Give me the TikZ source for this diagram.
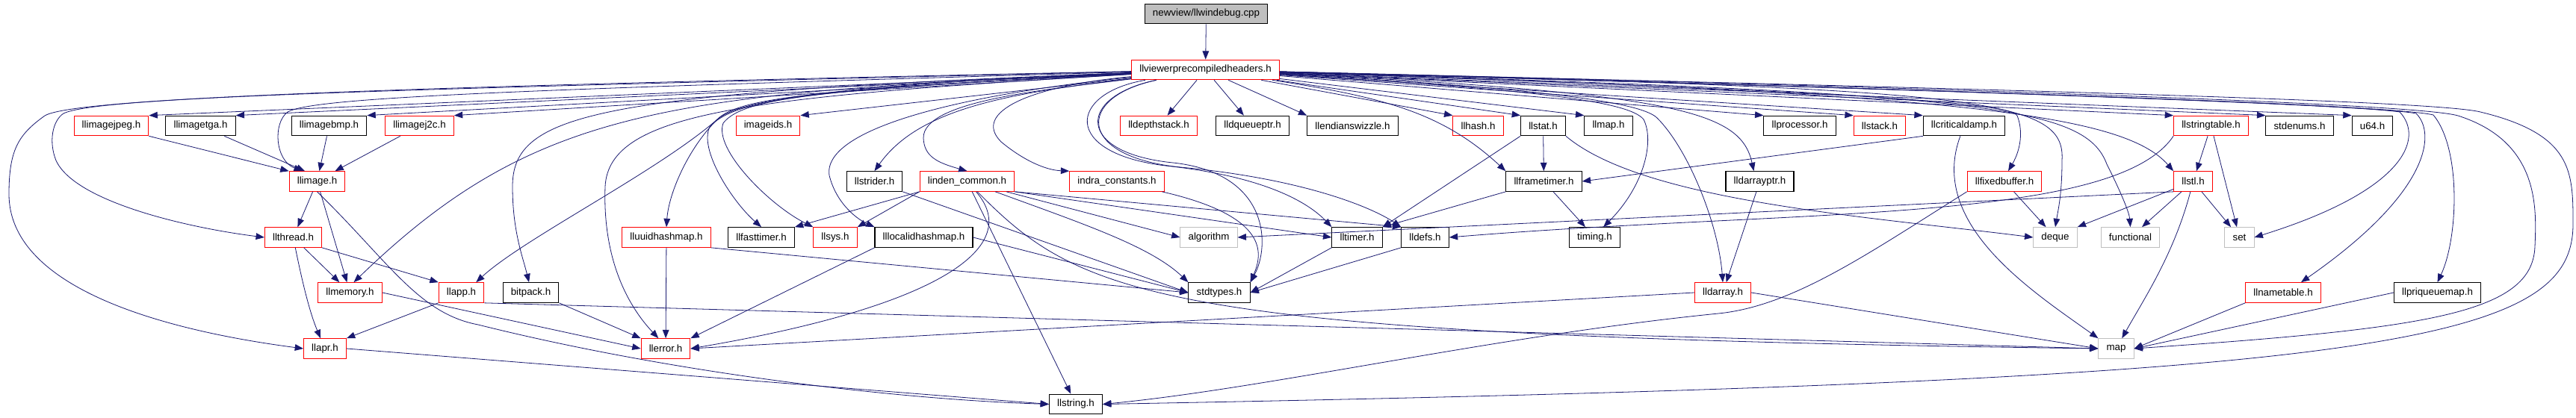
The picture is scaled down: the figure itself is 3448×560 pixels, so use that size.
\documentclass[tikz,border=0pt]{standalone}
\usepackage{fontspec}
\setmainfont{Liberation Sans}
\usetikzlibrary{arrows.meta}
\definecolor{edgeblue}{RGB}{25,25,112}
\definecolor{grey75}{RGB}{191,191,191}
\tikzset{
  file/.style={draw=black, fill=white, line width=0.8pt, inner xsep=8pt,
    inner ysep=0pt, minimum height=20pt, font=\fontsize{10}{12}\selectfont},
  redfile/.style={file, draw=red, line width=0.75pt},
  sysfile/.style={file, draw=grey75, line width=0.75pt},
  mainfile/.style={file, fill=grey75},
  incl/.style={->, >={Triangle[length=8.5pt, width=6.5pt]}, color=edgeblue,
    line width=0.6pt}
}
\begin{document}
\begin{tikzpicture}[x=0.75pt, y=-0.75pt]
  \fill[white] (0,0) rectangle (3448,560);
  \useasboundingbox (0,0) rectangle (3448,560);

  \node[mainfile] (main) at (1614.5,18.5) {newview/llwindebug.cpp};
  \node[redfile] (vph) at (1613.5,93.5) {llviewerprecompiledheaders.h};

  \foreach \n/\x/\y/\lbl in {imgjpeg/149/168.5/llimagejpeg.h,
      imgj2c/561.5/168.5/llimagej2c.h, imageids/1028/168.5/imageids.h,
      depthstack/1551/168.5/lldepthstack.h, hash/1978.5/168.5/llhash.h,
      stack/2516/168.5/llstack.h, stringtable/2959.5/168.5/llstringtable.h,
      image/424.5/243/llimage.h, lindencommon/1294.5/243/linden\_common.h,
      indraconst/1495/243/indra\_constants.h,
      fixedbuffer/2683/243/llfixedbuffer.h, stl/2935.5/243/llstl.h,
      thread/392.5/318/llthread.h, uuidhashmap/892/318/lluuidhashmap.h,
      sys/1118/318/llsys.h, memory/468.5/392/llmemory.h,
      app/617.5/392/llapp.h, darray/2306/392/lldarray.h,
      nametable/3056/392/llnametable.h, apr/435/467/llapr.h,
      error/891/467/llerror.h}
    \node[redfile] (\n) at (\x,\y) {\lbl};
  \foreach \n/\x/\y/\lbl in {imgtga/268.5/168.5/llimagetga.h,
      imgbmp/440.5/168.5/llimagebmp.h, dqueueptr/1676.5/168.5/lldqueueptr.h,
      endianswizzle/1810.5/168.5/llendianswizzle.h, stat/2065.5/168.5/llstat.h,
      llmap/2153/168.5/llmap.h, processor/2409/168.5/llprocessor.h,
      criticaldamp/2629/168.5/llcriticaldamp.h, stdenums/3078/168.5/stdenums.h,
      u64/3175.5/168.5/u64.h, strider/1170.5/243/llstrider.h,
      frametimer/2066.5/243/llframetimer.h, darrayptr/2355.5/243/lldarrayptr.h,
      fasttimer/1019/318/llfasttimer.h,
      localidhashmap/1236.5/318/lllocalidhashmap.h, timer/1816.5/318/lltimer.h,
      defs/1907.5/318/lldefs.h, timing/2134.5/318/timing.h,
      bitpack/710.5/392/bitpack.h, stdtypes/1632/392/stdtypes.h,
      priqueuemap/3262.5/392/llpriqueuemap.h, string/1440/541.5/llstring.h}
    \node[file] (\n) at (\x,\y) {\lbl};
  \foreach \n/\x/\y in {algorithm/1618/318, deque/2751/318,
      functional/2851.5/318, set/2997.5/318, map/2832.5/467}
    \node[sysfile] (\n) at (\x,\y) {\n};

  \draw[incl] (main) -- (vph);
  \foreach \n in {imgjpeg,imgtga,imgbmp,imgj2c,imageids}
    \draw[incl] (vph) -- (\n.north east);
  \foreach \n in {depthstack,dqueueptr}
    \draw[incl] (vph) -- (\n);
  \foreach \n in {endianswizzle,hash,stat,llmap,processor,stack,criticaldamp,
      stringtable,stdenums,u64}
    \draw[incl] (vph) -- (\n.north west);

  % long ways round from the precompiled header
  \draw[incl] (vph) .. controls (600,115) and (100,130) .. (60,155)
    .. controls (25,180) and (12,200) .. (12,260)
    .. controls (12,380) and (200,440) .. (apr.west);
  \draw[incl] (vph) .. controls (500,120) and (130,130) .. (85,152)
    .. controls (70,162) and (65,190) .. (75,215)
    .. controls (100,270) and (250,305) .. (thread.west);
  \draw[incl] (vph) .. controls (700,120) and (420,130) .. (385,150)
    .. controls (365,165) and (368,215) .. (image.145);
  \draw[incl] (vph) .. controls (900,125) and (720,140) .. (memory.70);
  \draw[incl] (vph) .. controls (1100,115) and (990,135) .. (960,160)
    .. controls (880,230) and (700,320) .. (app.35);
  \draw[incl] (vph) .. controls (800,125) and (686,150) .. (686,250)
    .. controls (686,310) and (700,345) .. (bitpack.100);
  \draw[incl] (vph) .. controls (1000,130) and (815,150) .. (810,250)
    .. controls (806,360) and (850,420) .. (error.125);
  \draw[incl] (vph) .. controls (1100,120) and (990,130) .. (960,160)
    .. controls (920,200) and (895,260) .. (uuidhashmap.north);
  \draw[incl] (vph) .. controls (1100,120) and (985,130) .. (950,170)
    .. controls (935,200) and (980,270) .. (fasttimer.north);
  \draw[incl] (vph) .. controls (1100,120) and (995,130) .. (968,165)
    .. controls (955,200) and (1030,275) .. (sys.north west);
  \draw[incl] (vph) .. controls (1350,125) and (1230,145) .. (strider.north);
  \draw[incl] (vph) .. controls (1300,125) and (1100,170) .. (1110,235)
    .. controls (1120,275) and (1150,295) .. (localidhashmap.north west);
  \draw[incl] (vph) .. controls (1400,120) and (1235,135) .. (1236,185)
    .. controls (1237,210) and (1255,218) .. (lindencommon.north);
  \draw[incl] (vph) .. controls (1380,115) and (1300,150) .. (1340,190)
    .. controls (1370,215) and (1400,228) .. (indraconst.north west);
  \draw[incl] (vph) .. controls (1440,130) and (1440,205) .. (1570,218)
    .. controls (1700,232) and (1700,330) .. (stdtypes.north east);
  \draw[incl] (vph) .. controls (1430,125) and (1420,205) .. (1560,222)
    .. controls (1690,236) and (1750,270) .. (timer.north west);
  \draw[incl] (vph) .. controls (1440,130) and (1440,210) .. (1580,224)
    .. controls (1750,240) and (1840,280) .. (defs.north west);
  \draw[incl] (vph) .. controls (1850,130) and (1930,150) .. (frametimer.north west);
  \draw[incl] (vph) .. controls (2050,120) and (2180,135) .. (2200,160)
    .. controls (2215,190) and (2200,250) .. (timing.50);
  \draw[incl] (vph) .. controls (2100,120) and (2200,140) .. (2218,158)
    .. controls (2260,200) and (2300,300) .. (darray.north);
  \draw[incl] (vph) .. controls (2250,125) and (2330,150) .. (darrayptr.120);
  \draw[incl] (vph) .. controls (2400,120) and (2690,135) .. (2700,155)
    .. controls (2708,175) and (2705,200) .. (fixedbuffer.70);
  \draw[incl] (vph) .. controls (2650,120) and (2765,130) .. (2760,215)
    .. controls (2760,260) and (2755,280) .. (deque.north);
  \draw[incl] (vph) .. controls (2650,125) and (2790,140) .. (2820,220)
    .. controls (2840,260) and (2850,285) .. (functional.north);
  \draw[incl] (vph) .. controls (2600,125) and (2840,150) .. (stl.north west);
  \draw[incl] (vph) .. controls (2600,120) and (3150,140) .. (3212,150)
    .. controls (3245,185) and (3220,255) .. (set.east);
  \draw[incl] (vph) .. controls (2600,120) and (3170,140) .. (3234,152)
    .. controls (3262,180) and (3250,260) .. (nametable.30);
  \draw[incl] (vph) .. controls (2600,120) and (3200,140) .. (3257,154)
    .. controls (3295,200) and (3290,320) .. (priqueuemap.north);
  \draw[incl] (vph) .. controls (2700,120) and (3240,140) .. (3290,155)
    .. controls (3400,190) and (3395,280) .. (3393,330)
    .. controls (3390,420) and (3250,440) .. (map.east);
  \draw[incl] (vph) .. controls (2700,120) and (3260,135) .. (3320,150)
    .. controls (3444,180) and (3444,230) .. (3444,300)
    .. controls (3444,460) and (3200,510) .. (string.east);

  \draw[incl] (imgjpeg.south east) -- (image.160);
  \draw[incl] (imgtga) -- (image.140);
  \draw[incl] (imgbmp) -- (image);
  \draw[incl] (imgj2c) -- (image.30);
  \draw[incl] (image) -- (thread);
  \draw[incl] (image) -- (memory);
  \draw[incl] (image.south) .. controls (520,350) and (560,420) .. (640,435)
    .. controls (900,500) and (1200,535) .. (string.west);
  \draw[incl] (thread) -- (memory);
  \draw[incl] (thread.south east) -- (app.north west);
  \draw[incl] (thread) .. controls (405,380) and (415,420) .. (apr);
  \draw[incl] (memory.east) -- (error.west);
  \draw[incl] (app.south west) -- (apr.north east);
  \draw[incl] (app.south east) -- (map.west);
  \draw[incl] (bitpack.south east) -- (error.north west);
  \draw[incl] (apr.east) -- (string.west);
  \draw[incl] (uuidhashmap) -- (error);
  \draw[incl] (uuidhashmap.south east) -- (stdtypes.west);
  \draw[incl] (localidhashmap.south west) -- (error.north east);
  \draw[incl] (localidhashmap.east) -- (stdtypes.west);
  \draw[incl] (strider.south east) -- (stdtypes.west);
  \draw[incl] (lindencommon.south west) -- (fasttimer.north east);
  \draw[incl] (lindencommon.south west) -- (sys.north east);
  \draw[incl] (lindencommon) .. controls (1370,330) and (1260,410) .. (error.east);
  \draw[incl] (lindencommon) -- (string);
  \draw[incl] (lindencommon) -- (algorithm.west);
  \draw[incl] (lindencommon) .. controls (1450,300) and (1540,330) .. (stdtypes.north west);
  \draw[incl] (lindencommon.south east) -- (timer.west);
  \draw[incl] (lindencommon.south east) -- (defs.north west);
  \draw[incl] (lindencommon) .. controls (1450,400) and (1550,450) .. (map.west);
  \draw[incl] (indraconst) .. controls (1700,290) and (1690,340) .. (stdtypes.north east);
  \draw[incl] (defs.south west) -- (stdtypes.east);
  \draw[incl] (timer.south west) -- (stdtypes.east);
  \draw[incl] (stat) -- (frametimer);
  \draw[incl] (stat.south west) -- (timer.north east);
  \draw[incl] (stat.south east) .. controls (2200,270) and (2500,290) .. (deque.west);
  \draw[incl] (frametimer.south west) -- (timer.north east);
  \draw[incl] (frametimer) -- (timing);
  \draw[incl] (criticaldamp.south west) -- (frametimer.east);
  \draw[incl] (criticaldamp) .. controls (2580,300) and (2720,390) .. (map.north west);
  \draw[incl] (darrayptr) -- (darray);
  \draw[incl] (darray.west) -- (error.east);
  \draw[incl] (darray.east) -- (map.west);
  \draw[incl] (fixedbuffer) -- (deque);
  \draw[incl] (fixedbuffer.south west) .. controls (2500,340) and (2400,410) .. (2300,420)
    .. controls (2000,450) and (1700,520) .. (string.east);
  \draw[incl] (stringtable) -- (stl);
  \draw[incl] (stringtable) -- (set);
  \draw[incl] (stringtable.south west) .. controls (2830,300) and (2400,280) .. (defs.east);
  \draw[incl] (stl.south west) -- (algorithm.east);
  \draw[incl] (stl) -- (deque.north east);
  \draw[incl] (stl) -- (functional);
  \draw[incl] (stl) -- (set);
  \draw[incl] (stl) .. controls (2910,340) and (2870,400) .. (map);
  \draw[incl] (nametable.south west) -- (map.east);
  \draw[incl] (priqueuemap.west) -- (map.east);
\end{tikzpicture}
\end{document}
